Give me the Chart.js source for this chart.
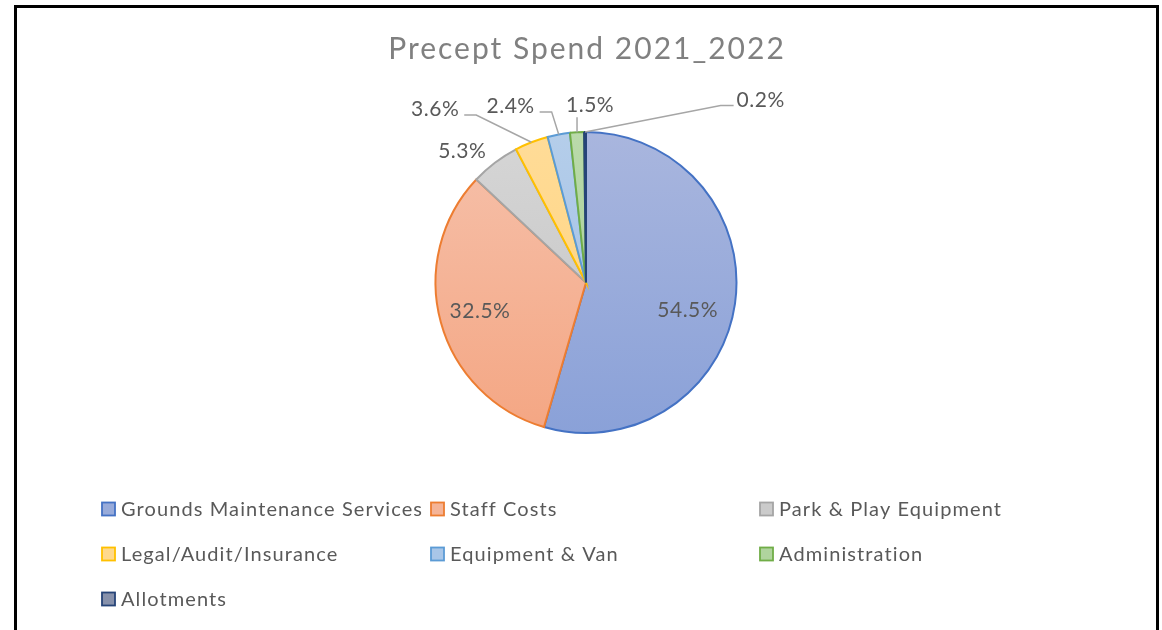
<!DOCTYPE html>
<html>
<head>
<meta charset="utf-8">
<script src="https://cdn.jsdelivr.net/npm/chart.js@4.4.1/dist/chart.umd.min.js"></script>
<style>
  html, body { margin: 0; padding: 0; background: #fff; overflow: hidden; }
  #wrap { position: relative; width: 1162px; height: 630px; }
  #frame { position: absolute; left: 14px; top: 5px; width: 1139px; height: 700px; border: 3px solid #000; box-sizing: content-box; pointer-events: none; z-index: 2; }
  canvas { position: absolute; left: 0; top: 0; }
</style>
</head>
<body>
<div id="wrap">
  <canvas id="c" width="1162" height="630"></canvas>
  <div id="frame"></div>
</div>
<script>
// ---- data ----
const chartTitle = 'Precept Spend 2021_2022';
const categories = ['Grounds Maintenance Services', 'Staff Costs', 'Park & Play Equipment',
  'Legal/Audit/Insurance', 'Equipment & Van', 'Administration', 'Allotments'];
const shares = [54.5, 32.5, 5.3, 3.6, 2.4, 1.5, 0.2];

// ---- styles ----
const borderColors = ['#4472C4', '#ED7D31', '#A5A5A5', '#FFC000', '#5B9BD5', '#70AD47', '#264478'];
const fillTop      = ['#A9B6DE', '#F6C1AB', '#D6D6D6', '#FFDC98', '#B5CEEA', '#BADAAB', '#96A1BC'];
const fillBottom   = ['#8AA1D8', '#F4A683', '#C2C2C2', '#FFD179', '#9CBCE3', '#A2CC8E', '#6A7AA0'];
const swatchFill   = ['#98ABDA', '#F5B497', '#CBCBCB', '#FFD98C', '#A9C6E8', '#B0D49E', '#8791AB'];
// label placement relative to each slice (k, dx, dy in units of radius; rot in degrees)
const labelPlacement = [
  { mode: 'in', k: 0.70, rot: 7 },
  { mode: 'in', k: 0.73, rot: 0 },
  { mode: 'out', k: 1.20, rot: -6 },
  { mode: 'lead', dx: -0.64, dy: -0.22 },
  { mode: 'lead', dx: -0.32, dy: -0.19 },
  { mode: 'lead', dx: 0.087, dy: -0.18 },
  { mode: 'lead', dx: 1.167, dy: -0.21 }
];

const FONT = 'Lato, "Open Sans", "Liberation Sans", sans-serif';

const overlayPlugin = {
  id: 'overlay',
  afterDatasetsDraw(chart) {
    const ctx = chart.ctx;
    const meta = chart.getDatasetMeta(0);
    const ca = chart.chartArea;
    // title
    ctx.save();
    ctx.fillStyle = '#808080';
    ctx.font = '30px ' + FONT;
    ctx.letterSpacing = '2px';
    ctx.textAlign = 'center';
    ctx.textBaseline = 'middle';
    ctx.fillText(chartTitle, (ca.left + ca.right) / 2 + 1, 49);
    ctx.restore();

    // data labels
    ctx.save();
    ctx.font = '21px ' + FONT;
    ctx.letterSpacing = '0.5px';
    ctx.fillStyle = '#595959';
    ctx.textAlign = 'center';
    ctx.textBaseline = 'middle';
    meta.data.forEach((arc, i) => {
      const p = arc.getProps(['x', 'y', 'startAngle', 'endAngle', 'outerRadius'], true);
      const mid = (p.startAngle + p.endAngle) / 2;
      const r = p.outerRadius;
      const txt = shares[i].toFixed(1) + '%';
      const pl = labelPlacement[i];
      let lx, ly;
      if (pl.mode === 'in' || pl.mode === 'out') {
        const a = mid + (pl.rot || 0) * Math.PI / 180;
        lx = p.x + Math.cos(a) * r * pl.k;
        ly = p.y + Math.sin(a) * r * pl.k;
      } else {
        const ex = p.x + Math.cos(mid) * r;
        const ey = p.y + Math.sin(mid) * r;
        lx = ex + pl.dx * r;
        ly = ey + pl.dy * r;
        const w = ctx.measureText(txt).width;
        ctx.save();
        ctx.strokeStyle = '#A6A6A6';
        ctx.lineWidth = 1.5;
        ctx.beginPath();
        if (Math.abs(lx - ex) < w / 2) {
          ctx.moveTo(ex, ey);
          ctx.lineTo(ex, ly + 12);
        } else if (lx < ex) {
          const sx = lx + w / 2 + 5;
          ctx.moveTo(sx, ly + 6);
          ctx.lineTo(sx + 12, ly + 6);
          ctx.lineTo(ex, ey);
        } else {
          const sx = lx - w / 2 - 3;
          ctx.moveTo(sx, ly + 5);
          ctx.lineTo(sx - 13, ly + 5);
          ctx.lineTo(ex, ey);
        }
        ctx.stroke();
        ctx.restore();
      }
      ctx.fillText(txt, lx, ly);
    });
    ctx.restore();

    // legend (3-column grid)
    ctx.save();
    ctx.font = '20px ' + FONT;
    ctx.letterSpacing = '1.1px';
    ctx.textAlign = 'left';
    ctx.textBaseline = 'middle';
    const colX = 102, colW = 329, rowY = 509, rowH = 45, sw = 13;
    categories.forEach((name, i) => {
      const col = i % 3, row = Math.floor(i / 3);
      const x = colX + col * colW;
      const y = rowY + row * rowH;
      ctx.fillStyle = swatchFill[i];
      ctx.fillRect(x, y - sw / 2, sw, sw);
      ctx.strokeStyle = borderColors[i];
      ctx.lineWidth = 1.8;
      ctx.strokeRect(x, y - sw / 2, sw, sw);
      ctx.fillStyle = '#595959';
      ctx.fillText(name, x + sw + 6, y + 1);
    });
    ctx.restore();
  }
};

function sliceGradient(context) {
  const chart = context.chart;
  const ca = chart.chartArea;
  if (!ca) return fillTop[context.dataIndex];
  const i = context.dataIndex;
  const g = chart.ctx.createLinearGradient(0, ca.top, 0, ca.bottom);
  g.addColorStop(0, fillTop[i]);
  g.addColorStop(1, fillBottom[i]);
  return g;
}

new Chart(document.getElementById('c'), {
  type: 'pie',
  data: {
    labels: categories,
    datasets: [{
      data: shares,
      backgroundColor: sliceGradient,
      borderColor: borderColors,
      borderWidth: 2,
      borderJoinStyle: 'miter'
    }]
  },
  options: {
    responsive: false,
    animation: false,
    layout: { padding: { top: 131, bottom: 196, left: 10, right: 0 } },
    plugins: {
      legend: { display: false },
      title: { display: false },
      tooltip: { enabled: false }
    }
  },
  plugins: [overlayPlugin]
});
</script>
</body>
</html>
